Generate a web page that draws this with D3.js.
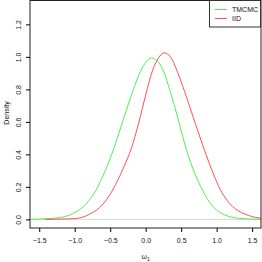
<!DOCTYPE html>
<html>
<head>
<meta charset="utf-8">
<script src="https://cdn.jsdelivr.net/npm/d3@7"></script>
<style>
  body { margin: 0; background: #fff; }
  text { font-family: "Liberation Sans", Arial, sans-serif; fill: #111; }
</style>
</head>
<body>
<script>
// densità stimate
var tmcmcX = [-1.63, -1.5, -1.4, -1.3, -1.2, -1.1, -1.0, -0.9, -0.8, -0.7, -0.6, -0.5, -0.4, -0.3, -0.2, -0.1, 0.0, 0.08, 0.15, 0.25, 0.35, 0.45, 0.55, 0.65, 0.75, 0.85, 0.95, 1.05, 1.15, 1.25, 1.4, 1.63];
var tmcmcY = [0.0, 0.002, 0.004, 0.007, 0.012, 0.022, 0.042, 0.07, 0.115, 0.18, 0.27, 0.375, 0.5, 0.635, 0.765, 0.885, 0.965, 0.993, 0.98, 0.915, 0.78, 0.63, 0.465, 0.33, 0.225, 0.14, 0.078, 0.042, 0.021, 0.01, 0.004, 0.001];
var iidX = [-1.42, -1.3, -1.2, -1.1, -1.0, -0.9, -0.8, -0.7, -0.6, -0.5, -0.4, -0.3, -0.2, -0.1, 0.0, 0.1, 0.2, 0.26, 0.35, 0.45, 0.55, 0.65, 0.75, 0.85, 0.95, 1.05, 1.15, 1.25, 1.35, 1.45, 1.55, 1.63];
var iidY = [0.0, 0.001, 0.002, 0.003, 0.005, 0.012, 0.03, 0.055, 0.095, 0.155, 0.235, 0.33, 0.44, 0.59, 0.765, 0.92, 1.005, 1.025, 1.0, 0.905, 0.785, 0.655, 0.525, 0.4, 0.285, 0.185, 0.115, 0.07, 0.042, 0.024, 0.012, 0.006];

var xTicks = [-1.5, -1.0, -0.5, 0.0, 0.5, 1.0, 1.5];
var yTicks = [0.0, 0.2, 0.4, 0.6, 0.8, 1.0, 1.2];
var seriesNames = ["TMCMC", "IID"];
var seriesColours = ["#4ef04e", "#ff5050"];

var W = 262, H = 262;
var plot = {left: 30, right: 261, top: 0.5, bottom: 228};

var svg = d3.select("body").append("svg")
  .attr("width", W)
  .attr("height", H);

var x = d3.scaleLinear().domain([-1.63, 1.625]).range([plot.left, plot.right]);
var y = d3.scaleLinear().domain([-0.053, 1.347]).range([plot.bottom, plot.top]);

// linea orizzontale a zero
svg.append("line")
  .attr("x1", plot.left).attr("x2", plot.right)
  .attr("y1", y(0)).attr("y2", y(0))
  .attr("stroke", "#d8d8d8").attr("stroke-width", 1);

var line = d3.line()
  .x(function(d) { return x(d[0]); })
  .y(function(d) { return y(d[1]); })
  .curve(d3.curveMonotoneX);

svg.append("clipPath").attr("id", "clip")
  .append("rect")
  .attr("x", plot.left).attr("y", plot.top)
  .attr("width", plot.right - plot.left).attr("height", plot.bottom - plot.top);

var series = [
  d3.zip(tmcmcX, tmcmcY),
  d3.zip(iidX, iidY)
];

series.forEach(function(s, i) {
  svg.append("path")
    .datum(s)
    .attr("clip-path", "url(#clip)")
    .attr("fill", "none")
    .attr("stroke", seriesColours[i])
    .attr("stroke-width", 1)
    .attr("d", line);
});

// box
svg.append("rect")
  .attr("x", plot.left).attr("y", plot.top)
  .attr("width", plot.right - plot.left).attr("height", plot.bottom - plot.top)
  .attr("fill", "none").attr("stroke", "#222").attr("stroke-width", 1);

// asse x
var xAxis = d3.axisBottom(x).tickValues(xTicks).tickSize(4).tickPadding(6)
  .tickFormat(d3.format(".1f"));
var gx = svg.append("g")
  .attr("transform", "translate(0," + plot.bottom + ")")
  .call(xAxis);
gx.select(".domain").remove();
gx.selectAll("text").attr("font-size", "7px").style("font-family", "Liberation Sans, Arial, sans-serif")
  .text(function(d) { return d3.format(".1f")(d).replace("-", "\u2212"); });

// asse y
var yAxis = d3.axisLeft(y).tickValues(yTicks).tickSize(4).tickFormat(d3.format(".1f"));
var gy = svg.append("g")
  .attr("transform", "translate(" + plot.left + ",0)")
  .call(yAxis);
gy.select(".domain").remove();
gy.selectAll("text")
  .attr("font-size", "7px")
  .style("font-family", "Liberation Sans, Arial, sans-serif")
  .attr("x", 0).attr("dy", null)
  .attr("text-anchor", "middle")
  .attr("transform", "translate(-9,0) rotate(-90)")
  .attr("y", 0);

// etichette assi
svg.append("text")
  .attr("transform", "translate(9," + 113 + ") rotate(-90)")
  .attr("text-anchor", "middle")
  .attr("font-size", "7px")
  .text("Density");

var xl = svg.append("text")
  .attr("x", x(0))
  .attr("y", 259)
  .attr("text-anchor", "middle")
  .attr("font-size", "7px");
xl.append("tspan").text("\u03c9");
xl.append("tspan").attr("font-size", "5px").attr("dy", 1.5).text("1");

// legenda
var leg = svg.append("g");
leg.append("rect")
  .attr("x", 209.5).attr("y", 0.5).attr("width", 51).attr("height", 26.5)
  .attr("fill", "#fff").attr("stroke", "#333").attr("stroke-width", 1);
seriesNames.forEach(function(n, i) {
  var yy = 9.5 + i * 9;
  leg.append("line")
    .attr("x1", 215).attr("x2", 227)
    .attr("y1", yy).attr("y2", yy)
    .attr("stroke", seriesColours[i]).attr("stroke-width", 1);
  leg.append("text")
    .attr("x", 232).attr("y", yy + 2.5)
    .attr("font-size", "7px")
    .text(n);
});
</script>
</body>
</html>
